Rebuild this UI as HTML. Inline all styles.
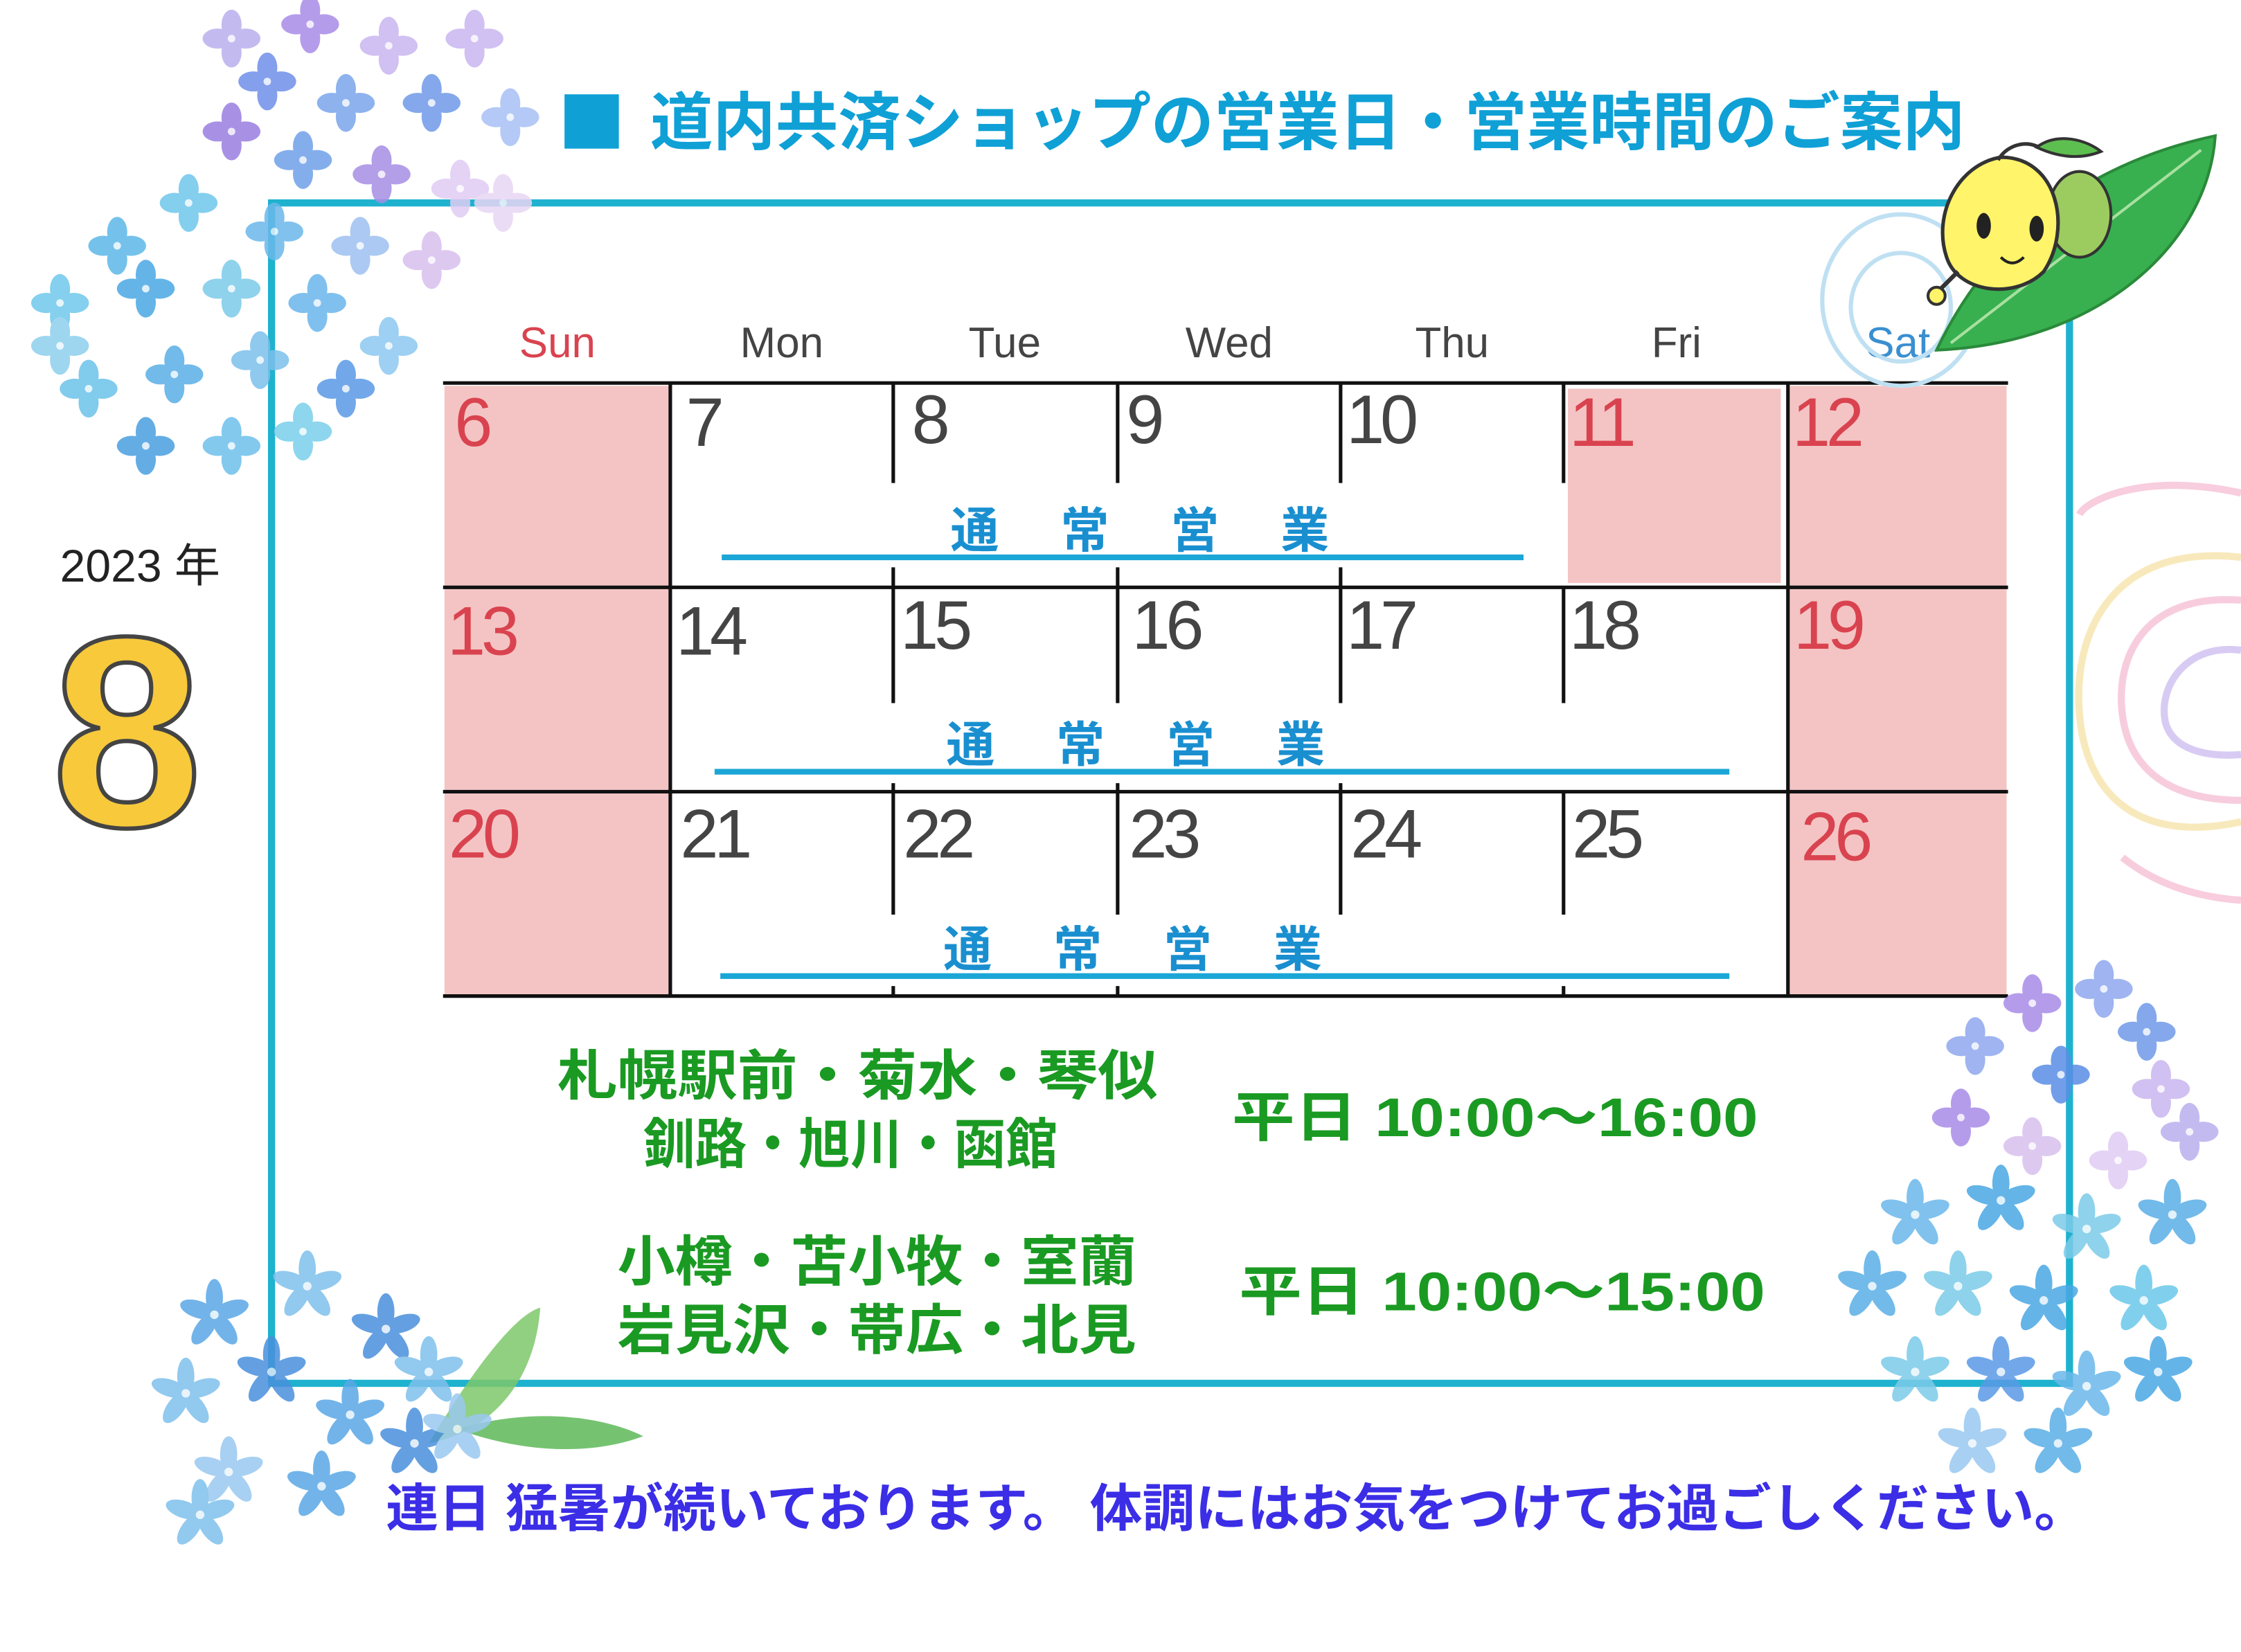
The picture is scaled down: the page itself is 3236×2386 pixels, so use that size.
<!DOCTYPE html>
<html><head><meta charset="utf-8"><style>
html,body{margin:0;padding:0;background:#fff;}
svg{display:block;}
text{font-family:"Liberation Sans","Noto Sans CJK JP",sans-serif;}
.jp{font-family:"Liberation Sans","Noto Sans CJK JP",sans-serif;font-weight:bold;}
</style></head><body>
<svg width="3236" height="2386" viewBox="0 0 1568 1156" preserveAspectRatio="none" xmlns="http://www.w3.org/2000/svg">
<defs>
<symbol id="fl" viewBox="-25 -25 50 50" overflow="visible">
<ellipse cx="0" cy="-11" rx="8" ry="12"/>
<ellipse cx="0" cy="11" rx="8" ry="12"/>
<ellipse cx="-11" cy="0" rx="12" ry="8"/>
<ellipse cx="11" cy="0" rx="12" ry="8"/>
<circle cx="0" cy="0" r="3" fill="#fff" opacity="0.8"/>
</symbol>
<symbol id="st" viewBox="-25 -25 50 50" overflow="visible">
<ellipse cx="0" cy="-12" rx="6" ry="13"/>
<ellipse cx="0" cy="-12" rx="6" ry="13" transform="rotate(72)"/>
<ellipse cx="0" cy="-12" rx="6" ry="13" transform="rotate(144)"/>
<ellipse cx="0" cy="-12" rx="6" ry="13" transform="rotate(216)"/>
<ellipse cx="0" cy="-12" rx="6" ry="13" transform="rotate(288)"/>
<circle cx="0" cy="0" r="3" fill="#fff" opacity="0.8"/>
</symbol>
</defs>

<!-- frame -->
<rect x="190" y="142" width="1258" height="826" fill="none" stroke="#1fb2cf" stroke-width="5"/>

<!-- spirals right -->
<g fill="none" stroke-width="5" opacity="0.7">
<path d="M1568 345 C1500 330 1460 350 1455 360" stroke="#f5b8cf"/>
<path d="M1568 390 C1480 380 1450 440 1455 500 C1460 560 1500 590 1568 575" stroke="#f6e0a0"/>
<path d="M1568 420 C1500 415 1480 460 1485 500 C1490 540 1520 560 1568 560" stroke="#f5b8cf"/>
<path d="M1568 455 C1530 450 1510 480 1515 505 C1520 525 1545 530 1568 528" stroke="#c8b6ee"/>
<path d="M1485 600 C1510 620 1540 628 1568 630" stroke="#f5b8cf"/>
</g>

<!-- title -->
<rect x="395" y="66" width="38" height="38" fill="#0fa0d6"/>
<text x="455" y="101" class="jp" font-size="44" fill="#0fa0d6" textLength="920" lengthAdjust="spacingAndGlyphs">道内共済ショップの営業日・営業時間のご案内</text>

<!-- year -->
<text x="42" y="407" font-size="32" fill="#222">2023 年</text>
<text x="36" y="578" font-size="190" font-weight="bold" fill="#f7c93b" stroke="#444" stroke-width="3">8</text>

<!-- pink cells -->
<g fill="#f4c4c4">
<rect x="311" y="270" width="157" height="426"/>
<rect x="1252" y="270" width="152" height="426"/>
<rect x="1097" y="272" width="149" height="136"/>
</g>

<!-- day headers -->
<g font-size="30" text-anchor="middle">
<text x="390" y="250" fill="#d9434f">Sun</text>
<text x="547" y="250" fill="#444">Mon</text>
<text x="703" y="250" fill="#444">Tue</text>
<text x="860" y="250" fill="#444">Wed</text>
<text x="1016" y="250" fill="#444">Thu</text>
<text x="1173" y="250" fill="#444">Fri</text>
<text x="1328" y="250" fill="#3a8fd0">Sat</text>
</g>

<!-- grid -->
<g stroke="#111" stroke-width="2.5">
<line x1="310" y1="268" x2="1405" y2="268"/>
<line x1="310" y1="411" x2="1405" y2="411"/>
<line x1="310" y1="554" x2="1405" y2="554"/>
<line x1="310" y1="697" x2="1405" y2="697"/>
<line x1="469" y1="268" x2="469" y2="697"/>
<line x1="1251" y1="268" x2="1251" y2="697"/>
<line x1="625" y1="268" x2="625" y2="338"/><line x1="782" y1="268" x2="782" y2="338"/><line x1="938" y1="268" x2="938" y2="338"/><line x1="1094" y1="268" x2="1094" y2="338"/>
<line x1="625" y1="397" x2="625" y2="492"/><line x1="782" y1="397" x2="782" y2="492"/><line x1="938" y1="397" x2="938" y2="492"/><line x1="1094" y1="411" x2="1094" y2="492"/>
<line x1="625" y1="548" x2="625" y2="640"/><line x1="782" y1="548" x2="782" y2="640"/><line x1="938" y1="548" x2="938" y2="640"/><line x1="1094" y1="554" x2="1094" y2="640"/>
<line x1="625" y1="690" x2="625" y2="697"/><line x1="782" y1="690" x2="782" y2="697"/><line x1="1094" y1="690" x2="1094" y2="697"/>
</g>

<!-- numbers -->
<g font-size="48" fill="#444" letter-spacing="-3">
<text x="318" y="312" fill="#d9434f">6</text><text x="480" y="312">7</text><text x="638" y="310">8</text><text x="788" y="310">9</text><text x="942" y="310">10</text><text x="1098" y="312" fill="#d9434f">11</text><text x="1254" y="312" fill="#d9434f">12</text>
<text x="313" y="458" fill="#d9434f">13</text><text x="473" y="458">14</text><text x="630" y="454">15</text><text x="792" y="454">16</text><text x="942" y="454">17</text><text x="1098" y="454">18</text><text x="1255" y="454" fill="#d9434f">19</text>
<text x="314" y="600" fill="#d9434f">20</text><text x="476" y="600">21</text><text x="632" y="600">22</text><text x="790" y="600">23</text><text x="945" y="600">24</text><text x="1100" y="600">25</text><text x="1260" y="602" fill="#d9434f">26</text>
</g>

<!-- 通常営業 -->
<g class="jp" font-size="34" fill="#1a8fd0" font-weight="normal">
<text x="665" y="383" textLength="265" lengthAdjust="spacing">通 常 営 業</text>
<text x="662" y="533" textLength="265" lengthAdjust="spacing">通 常 営 業</text>
<text x="660" y="676" textLength="265" lengthAdjust="spacing">通 常 営 業</text>
</g>
<g stroke="#1aa6d6" stroke-width="4">
<line x1="505" y1="390" x2="1066" y2="390"/>
<line x1="500" y1="540" x2="1210" y2="540"/>
<line x1="504" y1="683" x2="1210" y2="683"/>
</g>

<!-- hours -->
<g class="jp" fill="#1a9a22" font-size="38">
<text x="390" y="766" textLength="420" lengthAdjust="spacingAndGlyphs">札幌駅前・菊水・琴似</text>
<text x="450" y="814" textLength="290" lengthAdjust="spacingAndGlyphs">釧路・旭川・函館</text>
<text x="862" y="795" textLength="368" lengthAdjust="spacingAndGlyphs">平日  10:00～16:00</text>
<text x="432" y="896" textLength="363" lengthAdjust="spacingAndGlyphs">小樽・苫小牧・室蘭</text>
<text x="432" y="944" textLength="363" lengthAdjust="spacingAndGlyphs">岩見沢・帯広・北見</text>
<text x="867" y="917" textLength="368" lengthAdjust="spacingAndGlyphs">平日  10:00～15:00</text>
</g>

<!-- top-left hydrangea -->
<g opacity="0.85">
<use href="#fl" x="140" y="5" width="44" height="44" fill="#b9b0ee"/>
<use href="#fl" x="195" y="-5" width="44" height="44" fill="#a98be8"/>
<use href="#fl" x="250" y="10" width="44" height="44" fill="#c9b6f0"/>
<use href="#fl" x="310" y="5" width="44" height="44" fill="#c9b6f0"/>
<use href="#fl" x="335" y="60" width="44" height="44" fill="#a7c0f5"/>
<use href="#fl" x="280" y="50" width="44" height="44" fill="#6f9ae8"/>
<use href="#fl" x="220" y="50" width="44" height="44" fill="#7aa5ec"/>
<use href="#fl" x="165" y="35" width="44" height="44" fill="#6f8fe8"/>
<use href="#fl" x="140" y="70" width="44" height="44" fill="#9a7ee0"/>
<use href="#fl" x="190" y="90" width="44" height="44" fill="#6fa0e8"/>
<use href="#fl" x="245" y="100" width="44" height="44" fill="#a68ee4"/>
<use href="#fl" x="300" y="110" width="44" height="44" fill="#e0ccf4"/>
<use href="#fl" x="330" y="120" width="44" height="44" fill="#e8d6f4"/>
<use href="#fl" x="280" y="160" width="44" height="44" fill="#d8c0ee"/>
<use href="#fl" x="230" y="150" width="44" height="44" fill="#9dc0f0"/>
<use href="#fl" x="170" y="140" width="44" height="44" fill="#6ab8ea"/>
<use href="#fl" x="110" y="120" width="44" height="44" fill="#6fc6ec"/>
<use href="#fl" x="60" y="150" width="44" height="44" fill="#5cb8e8"/>
<use href="#fl" x="20" y="190" width="44" height="44" fill="#6fc8ec"/>
<use href="#fl" x="80" y="180" width="44" height="44" fill="#4aa8e4"/>
<use href="#fl" x="140" y="180" width="44" height="44" fill="#7ccbe8"/>
<use href="#fl" x="200" y="190" width="44" height="44" fill="#6ab6ec"/>
<use href="#fl" x="250" y="220" width="44" height="44" fill="#8cc8f0"/>
<use href="#fl" x="40" y="250" width="44" height="44" fill="#6cc2ea"/>
<use href="#fl" x="100" y="240" width="44" height="44" fill="#5aaee6"/>
<use href="#fl" x="160" y="230" width="44" height="44" fill="#7cc0ec"/>
<use href="#fl" x="220" y="250" width="44" height="44" fill="#5a9ae6"/>
<use href="#fl" x="80" y="290" width="44" height="44" fill="#4a9ee0"/>
<use href="#fl" x="140" y="290" width="44" height="44" fill="#6ec0ec"/>
<use href="#fl" x="190" y="280" width="44" height="44" fill="#7ad0ec"/>
<use href="#fl" x="20" y="220" width="44" height="44" fill="#8ed0ee"/>
</g>

<!-- bottom-left leaves + flowers -->
<path d="M300 1010 C330 960 360 920 378 915 C375 960 350 1000 300 1010Z" fill="#7cc86a" opacity="0.85"/>
<path d="M320 1000 C370 985 420 990 450 1005 C410 1020 360 1015 320 1000Z" fill="#5db858" opacity="0.85"/>
<g opacity="0.85">
<use href="#st" x="125" y="895" width="50" height="50" fill="#5aa8e6"/>
<use href="#st" x="190" y="875" width="50" height="50" fill="#7fc0ec"/>
<use href="#st" x="245" y="905" width="50" height="50" fill="#4a90dc"/>
<use href="#st" x="105" y="950" width="50" height="50" fill="#7fc0ec"/>
<use href="#st" x="165" y="935" width="50" height="50" fill="#4a90dc"/>
<use href="#st" x="220" y="965" width="50" height="50" fill="#5aa8e6"/>
<use href="#st" x="275" y="935" width="50" height="50" fill="#7fc0ec"/>
<use href="#st" x="135" y="1005" width="50" height="50" fill="#9ac8f0"/>
<use href="#st" x="200" y="1015" width="50" height="50" fill="#5aa8e6"/>
<use href="#st" x="265" y="985" width="50" height="50" fill="#4a90dc"/>
<use href="#st" x="115" y="1035" width="50" height="50" fill="#7fc0ec"/>
<use href="#st" x="295" y="975" width="50" height="50" fill="#9ac8f0"/>
</g>

<!-- bottom-right flowers -->
<g opacity="0.85">
<use href="#fl" x="1400" y="680" width="44" height="44" fill="#a98be8"/>
<use href="#fl" x="1450" y="670" width="44" height="44" fill="#8fa8ee"/>
<use href="#fl" x="1480" y="700" width="44" height="44" fill="#6f9ae8"/>
<use href="#fl" x="1360" y="710" width="44" height="44" fill="#8fa8ee"/>
<use href="#fl" x="1420" y="730" width="44" height="44" fill="#5a8ee6"/>
<use href="#fl" x="1490" y="740" width="44" height="44" fill="#c9b6f0"/>
<use href="#fl" x="1350" y="760" width="44" height="44" fill="#a98be8"/>
<use href="#fl" x="1400" y="780" width="44" height="44" fill="#d8c0ee"/>
<use href="#fl" x="1460" y="790" width="44" height="44" fill="#e0ccf4"/>
<use href="#fl" x="1510" y="770" width="44" height="44" fill="#b9b0ee"/>
<use href="#st" x="1315" y="825" width="50" height="50" fill="#6ab8ea"/>
<use href="#st" x="1375" y="815" width="50" height="50" fill="#4aa8e4"/>
<use href="#st" x="1435" y="835" width="50" height="50" fill="#7ccbe8"/>
<use href="#st" x="1495" y="825" width="50" height="50" fill="#5aaee6"/>
<use href="#st" x="1285" y="875" width="50" height="50" fill="#5aaee6"/>
<use href="#st" x="1345" y="875" width="50" height="50" fill="#7ccbe8"/>
<use href="#st" x="1405" y="885" width="50" height="50" fill="#4aa8e4"/>
<use href="#st" x="1475" y="885" width="50" height="50" fill="#6ac8ea"/>
<use href="#st" x="1315" y="935" width="50" height="50" fill="#7ccbe8"/>
<use href="#st" x="1375" y="935" width="50" height="50" fill="#5a9ae6"/>
<use href="#st" x="1435" y="945" width="50" height="50" fill="#6ab8ea"/>
<use href="#st" x="1485" y="935" width="50" height="50" fill="#4aa8e4"/>
<use href="#st" x="1355" y="985" width="50" height="50" fill="#9ac8f0"/>
<use href="#st" x="1415" y="985" width="50" height="50" fill="#5aaee6"/>
</g>

<!-- character -->
<g fill="none" stroke="#bfe0f2" stroke-width="3">
<ellipse cx="1330" cy="210" rx="55" ry="60"/>
<ellipse cx="1330" cy="215" rx="35" ry="38"/>
</g>
<path d="M1355 245 C1400 150 1480 110 1550 95 C1545 170 1470 240 1355 245Z" fill="#38b050" stroke="#2a8a3a" stroke-width="2"/>
<path d="M1365 240 L1540 105" stroke="#a8e0a0" stroke-width="2"/>
<ellipse cx="1455" cy="150" rx="22" ry="30" fill="#9ccc60" stroke="#333" stroke-width="2"/>
<path d="M1400 110 C1440 110 1450 160 1430 190 C1410 210 1370 205 1362 180 C1352 150 1370 115 1400 110Z" fill="#fff46a" stroke="#333" stroke-width="2.5"/>
<path d="M1398 112 C1405 100 1420 98 1428 104" fill="none" stroke="#333" stroke-width="2.5"/>
<path d="M1425 103 C1440 92 1460 98 1470 106 C1455 112 1440 110 1425 103Z" fill="#5dbf50" stroke="#333" stroke-width="2"/>
<ellipse cx="1388" cy="158" rx="5" ry="9" fill="#222"/>
<ellipse cx="1425" cy="160" rx="5" ry="9" fill="#222"/>
<path d="M1400 180 Q1408 188 1416 180" fill="none" stroke="#222" stroke-width="2"/>
<path d="M1370 190 L1350 210" stroke="#333" stroke-width="3"/>
<circle cx="1355" cy="207" r="6" fill="#fff46a" stroke="#333" stroke-width="2"/>

<!-- bottom message -->
<text x="270" y="1068" class="jp" font-size="36" fill="#3b2ee6" textLength="1190" lengthAdjust="spacingAndGlyphs">連日 猛暑が続いております。 体調にはお気をつけてお過ごしください。</text>
</svg>
</body></html>
